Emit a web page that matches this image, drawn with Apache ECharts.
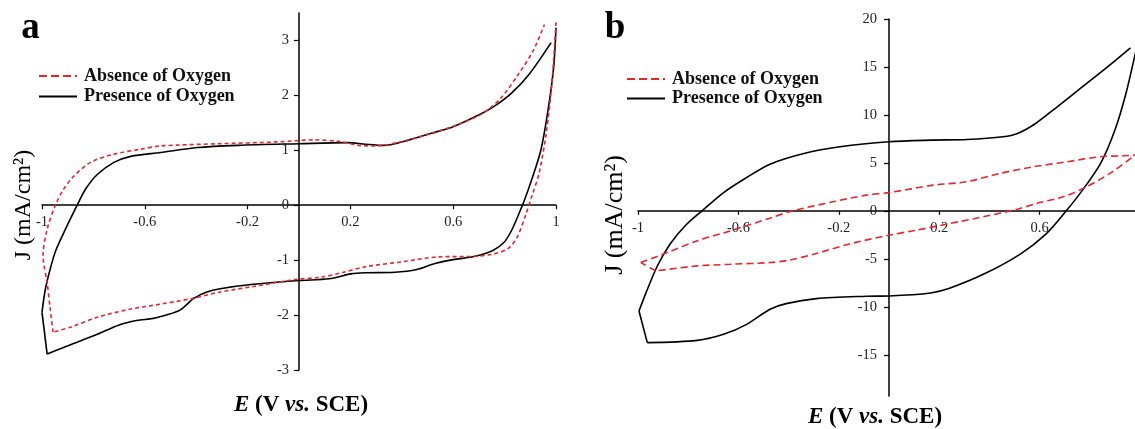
<!DOCTYPE html>
<html><head><meta charset="utf-8">
<script src="https://cdn.jsdelivr.net/npm/echarts@6/dist/echarts.min.js"></script>
<style>html,body{margin:0;padding:0;background:#fff}#c{width:1135px;height:429px}</style>
</head><body><div id="c"></div><script>
// ---------- DATA (E in V vs SCE, J in mA/cm2) ----------
const SERIES_NAMES = ['Absence of Oxygen', 'Presence of Oxygen'];

// Panel a – presence of oxygen (black)
const A_pres_side = [[-0.98,-2.71],[-1.0,-1.95]];
const A_pres_up = [[-1.0,-1.95],[-0.987,-1.53],[-0.968,-1.16],[-0.946,-0.82],[-0.905,-0.40],[-0.863,0],[-0.831,0.29],[-0.785,0.56],[-0.72,0.78],[-0.655,0.89],[-0.538,0.96],[-0.395,1.05],[-0.239,1.09],[0,1.12],[0.188,1.14],[0.259,1.11],[0.33,1.09],[0.429,1.19],[0.515,1.31],[0.6,1.43],[0.685,1.61],[0.756,1.79],[0.827,2.04],[0.898,2.40],[0.981,2.96]];
const A_pres_down = [[1.0,3.23],[0.991,2.52],[0.969,1.73],[0.941,1.0],[0.905,0.46],[0.877,0.09],[0.856,-0.15],[0.827,-0.46],[0.799,-0.67],[0.756,-0.82],[0.685,-0.93],[0.6,-0.99],[0.529,-1.06],[0.458,-1.17],[0.372,-1.22],[0.259,-1.23],[0.202,-1.25],[0.117,-1.34],[0,-1.37],[-0.178,-1.44],[-0.307,-1.52],[-0.359,-1.58],[-0.411,-1.70],[-0.437,-1.81],[-0.463,-1.91],[-0.51,-1.99],[-0.567,-2.06],[-0.632,-2.10],[-0.70,-2.18],[-0.785,-2.35],[-0.916,-2.59],[-0.98,-2.71]];

// Panel a – absence of oxygen (red dashed)
const A_abs_up = [[-0.957,-2.31],[-0.968,-1.89],[-0.98,-1.41],[-0.996,-0.92],[-0.98,-0.44],[-0.948,0],[-0.916,0.29],[-0.876,0.53],[-0.811,0.78],[-0.72,0.93],[-0.616,1.02],[-0.538,1.08],[-0.31,1.12],[-0.097,1.15],[0.06,1.19],[0.159,1.16],[0.23,1.09],[0.301,1.08],[0.401,1.16],[0.515,1.31],[0.614,1.46],[0.714,1.67],[0.785,1.95],[0.856,2.40],[0.913,2.83],[0.955,3.29]];
const A_abs_down = [[1.0,3.33],[0.984,2.22],[0.962,1.31],[0.934,0.58],[0.905,0.15],[0.884,-0.15],[0.849,-0.58],[0.813,-0.79],[0.756,-0.89],[0.685,-0.93],[0.543,-0.94],[0.401,-1.03],[0.259,-1.12],[0.173,-1.22],[0.088,-1.31],[-0.009,-1.35],[-0.178,-1.48],[-0.307,-1.58],[-0.418,-1.70],[-0.538,-1.80],[-0.655,-1.89],[-0.785,-2.04],[-0.889,-2.22],[-0.957,-2.31]];

// Panel b – presence of oxygen (black)
const B_pres_side = [[-0.963,-13.74],[-0.996,-10.44]];
const B_pres_up = [[-0.996,-10.44],[-0.969,-8.6],[-0.923,-5.75],[-0.872,-3.45],[-0.81,-1.5],[-0.745,0],[-0.659,1.91],[-0.567,3.48],[-0.474,4.87],[-0.339,5.98],[-0.195,6.68],[0,7.2],[0.166,7.37],[0.31,7.44],[0.454,7.72],[0.512,8.07],[0.584,9.11],[0.67,10.85],[0.771,12.94],[0.872,15.03],[0.962,16.98]];
const B_pres_down = [[1.0,18.4],[0.98,16.24],[0.944,12.24],[0.9,8.42],[0.843,4.94],[0.771,2.16],[0.706,0],[0.627,-2.37],[0.526,-4.45],[0.382,-6.54],[0.238,-8.1],[0.166,-8.56],[0,-8.87],[-0.091,-8.9],[-0.29,-9.15],[-0.41,-9.67],[-0.474,-10.26],[-0.567,-11.83],[-0.659,-12.87],[-0.765,-13.5],[-0.963,-13.74]];

// Panel b – absence of oxygen (red dashed)
const B_abs_down = [[1.0,6.2],[0.98,5.81],[0.88,3.9],[0.774,2.34],[0.694,1.46],[0.588,0.77],[0.508,0.15],[0.374,-0.62],[0.242,-1.32],[0.109,-2.01],[0,-2.54],[-0.158,-3.45],[-0.29,-4.45],[-0.40,-5.15],[-0.475,-5.39],[-0.633,-5.57],[-0.765,-5.74],[-0.93,-6.26]];
const B_abs_side = [[-0.93,-6.26],[-0.989,-5.39]];
const B_abs_up = [[-0.989,-5.39],[-0.884,-4.35],[-0.765,-3.13],[-0.633,-2.09],[-0.475,-0.76],[-0.384,0],[-0.224,0.94],[-0.091,1.64],[0,1.9],[0.175,2.68],[0.308,3.03],[0.441,3.9],[0.574,4.59],[0.707,5.11],[0.84,5.64],[0.933,5.74],[1.0,5.85]];

// Axis ranges and tick labels
const A_xRange = [-1, 1], A_yRange = [-3, 3.5];
const B_xRange = [-1, 0.98], B_yRange = [-19.3, 20];
const A_xTicks = [-1,-0.6,-0.2,0.2,0.6,1];
const A_yTicks = [-3,-2,-1,0,1,2,3];
const B_xTicks = [-1,-0.6,-0.2,0.2,0.6];
const B_yTicks = [-15,-10,-5,0,5,10,15,20];

// ---------- LAYOUT / STYLE ----------
const FONT = "'Liberation Serif','Times New Roman',serif";
const RED = '#e8262a', BLACK = '#000';
const GRIDS = [
  {left:42, top:13, width:514, height:357},
  {left:638, top:19, width:497, height:377}
];

function mkSeries(name, data, gi, color, dash, z) {
  return { type:'line', name, data, xAxisIndex:gi, yAxisIndex:gi, symbol:'none', showSymbol:false,
    smooth:0.3, clip:true, animation:false, silent:true, z,
    lineStyle:{color, width:1.6, type:dash}, itemStyle:{color} };
}
const series = [
  mkSeries(SERIES_NAMES[1], A_pres_up, 0, BLACK, 'solid', 2),
  mkSeries(SERIES_NAMES[1], A_pres_down, 0, BLACK, 'solid', 2),
  mkSeries(SERIES_NAMES[1], A_pres_side, 0, BLACK, 'solid', 2),
  mkSeries(SERIES_NAMES[0], A_abs_up, 0, RED, [4,3], 3),
  mkSeries(SERIES_NAMES[0], A_abs_down, 0, RED, [4,3], 3),
  mkSeries(SERIES_NAMES[1], B_pres_up, 1, BLACK, 'solid', 2),
  mkSeries(SERIES_NAMES[1], B_pres_down, 1, BLACK, 'solid', 2),
  mkSeries(SERIES_NAMES[1], B_pres_side, 1, BLACK, 'solid', 2),
  mkSeries(SERIES_NAMES[0], B_abs_down, 1, RED, [7,4], 3),
  mkSeries(SERIES_NAMES[0], B_abs_side, 1, RED, [7,4], 3),
  mkSeries(SERIES_NAMES[0], B_abs_up, 1, RED, [7,4], 3)
];

const fmt = v => String(Math.round(v * 10) / 10);
// place each axis line where the other axis is zero (derived from the axis ranges)
const zeroOffset = (range, size) => -((0 - range[0]) / (range[1] - range[0])) * size;

function xAxis(gi, range, yRange, ticks, margin) {
  return { type:'value', gridIndex:gi, min:range[0], max:range[1], position:'bottom',
    offset: zeroOffset(yRange, GRIDS[gi].height),
    axisLine:{show:true, onZero:false, lineStyle:{color:'#000', width:1.5}},
    axisTick:{show:true, length:4, customValues:ticks, lineStyle:{color:'#000', width:1.2}},
    axisLabel:{customValues:ticks, formatter:fmt, color:'#222', fontFamily:FONT, fontSize:14.5, margin},
    splitLine:{show:false} };
}
function yAxis(gi, range, xRange, ticks, margin) {
  return { type:'value', gridIndex:gi, min:range[0], max:range[1], position:'left',
    offset: zeroOffset(xRange, GRIDS[gi].width),
    axisLine:{show:true, onZero:false, lineStyle:{color:'#000', width:1.5}},
    axisTick:{show:true, length:5, customValues:ticks, lineStyle:{color:'#000', width:1.2}},
    axisLabel:{customValues:ticks, formatter:fmt, color:'#222', fontFamily:FONT, fontSize:14.5, margin},
    splitLine:{show:false} };
}
function legend(left, top, gap) {
  return { left, top, orient:'vertical', itemWidth:38, itemHeight:14, itemGap:gap, selectedMode:false,
    padding:5,
    itemStyle:{opacity:0, color:'rgba(0,0,0,0)', borderWidth:0},
    data:[
      {name:SERIES_NAMES[0], lineStyle:{type:[8,4], width:2}},
      {name:SERIES_NAMES[1], lineStyle:{width:2}}
    ],
    textStyle:{fontFamily:FONT, fontWeight:'bold', fontSize:18, color:'#111', padding:[0,0,0,2]} };
}
const italic = {fontStyle:'italic', fontWeight:'bold', fontSize:23, fontFamily:FONT, fill:'#000'};
const normal = {fontWeight:'bold', fontSize:23, fontFamily:FONT, fill:'#000'};
function axTitle(x, y) {
  return {type:'text', x, y, silent:true, style:{text:'{i|E} {n|(V }{i|vs.}{n| SCE)}', rich:{i:italic, n:normal},
    align:'center', verticalAlign:'middle', font:'bold 23px ' + FONT}};
}
function yTitle(x, y, size) {
  return {type:'text', x, y, rotation:Math.PI/2, silent:true,
    style:{text:'J (mA/cm²)', fill:'#000', font:size + 'px ' + FONT, align:'center', verticalAlign:'middle'}};
}
function letter(x, y, t) {
  return {type:'text', x, y, silent:true, style:{text:t, fill:'#000', font:'bold 37px ' + FONT, align:'center', verticalAlign:'middle'}};
}

const option = {
  backgroundColor:'#fff', animation:false,
  grid: GRIDS.map(g => Object.assign({outerBoundsMode:'none', containLabel:false}, g)),
  xAxis:[ xAxis(0, A_xRange, A_yRange, A_xTicks, 9), xAxis(1, B_xRange, B_yRange, B_xTicks, 10) ],
  yAxis:[ yAxis(0, A_yRange, A_xRange, A_yTicks, 10), yAxis(1, B_yRange, B_xRange, B_yTicks, 12) ],
  legend:[ legend(33, 62, 2.5), legend(621, 65, 1.5) ],
  series,
  graphic:[
    letter(30.5, 28, 'a'),
    letter(615, 28, 'b'),
    axTitle(301, 405),
    axTitle(875, 417),
    yTitle(24, 205, 24),
    yTitle(615, 215, 26)
  ]
};
const chart = echarts.init(document.getElementById('c'), null, {renderer:'canvas'});
chart.setOption(option);
</script></body></html>
